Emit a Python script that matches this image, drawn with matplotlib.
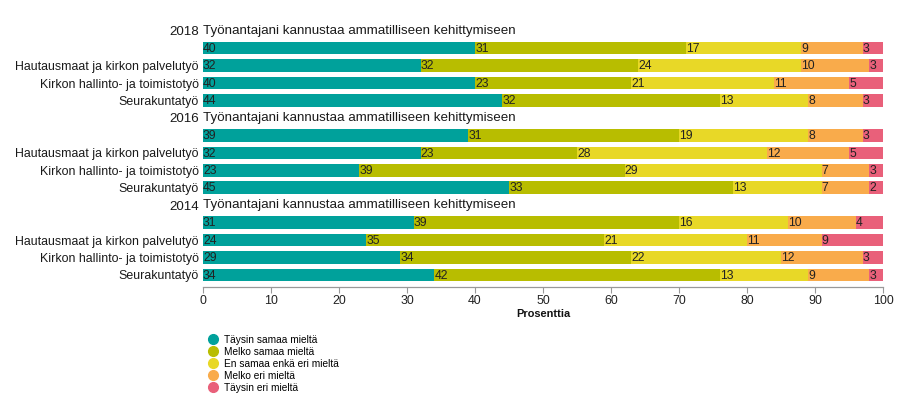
import matplotlib
matplotlib.use("Agg")
import matplotlib.pyplot as plt
from matplotlib.lines import Line2D
import numpy as np

plt.rcParams['font.family'] = ['Liberation Sans', 'DejaVu Sans']

series_names = ["Täysin samaa mieltä", "Melko samaa mieltä", "En samaa enkä eri mieltä",
                "Melko eri mieltä", "Täysin eri mieltä"]
colors = ["#00A19B", "#B8BD00", "#E8D827", "#F9AB4B", "#E9607A"]

years = ["2018", "2016", "2014"]
header_text = "Työnantajani kannustaa ammatilliseen kehittymiseen"
subgroups = ["", "Hautausmaat ja kirkon palvelutyö", "Kirkon hallinto- ja toimistotyö", "Seurakuntatyö"]

values_2018 = [[40, 31, 17, 9, 3],
               [32, 32, 24, 10, 3],
               [40, 23, 21, 11, 5],
               [44, 32, 13, 8, 3]]
values_2016 = [[39, 31, 19, 8, 3],
               [32, 23, 28, 12, 5],
               [23, 39, 29, 7, 3],
               [45, 33, 13, 7, 2]]
values_2014 = [[31, 39, 16, 10, 4],
               [24, 35, 21, 11, 9],
               [29, 34, 22, 12, 3],
               [34, 42, 13, 9, 3]]
all_values = [values_2018, values_2016, values_2014]

fig = plt.figure(figsize=(9.15, 3.98), dpi=100)
ax = fig.add_axes([0.2219, 0.279, 0.7432, 0.67])

fs = 8.7
fs_tick = 8.9
fs_head = 9.6
row = 0
ytick_pos, ytick_lab = [], []
for year, vals in zip(years, all_values):
    ytick_pos.append(row)
    ytick_lab.append(year)
    ax.text(0, row, header_text, ha='left', va='center', fontsize=fs_head, color='#1a1a1a')
    row += 1
    for sub, v in zip(subgroups, vals):
        left = 0
        for i, val in enumerate(v):
            ax.barh(row, val, left=left, height=0.72, color=colors[i], linewidth=0)
            ax.text(left, row + 0.04, str(val), ha='left', va='center', fontsize=fs, color='#222222')
            left += val
        ytick_pos.append(row)
        ytick_lab.append(sub)
        row += 1

ax.set_xlim(0, 100)
ax.set_ylim(row - 1 + 0.69, -0.6)
ax.set_yticks(ytick_pos)
ax.set_yticklabels(ytick_lab, fontsize=fs_tick, color='#1a1a1a')
for lab in ax.get_yticklabels():
    if lab.get_text() in years:
        lab.set_fontsize(fs_head)
ax.tick_params(axis='y', length=0, pad=3)
ax.set_xticks(np.arange(0, 101, 10))
ax.tick_params(axis='x', labelsize=fs_tick, colors='#222222', length=4, width=0.8, pad=2)
ax.tick_params(axis='x', color='#999999')
for s in ['top', 'right', 'left']:
    ax.spines[s].set_visible(False)
ax.spines['bottom'].set_color('#999999')
ax.spines['bottom'].set_linewidth(0.9)
ax.set_xlabel("Prosenttia", fontsize=7.9, fontweight='bold', labelpad=1, color='#111111')

handles = [Line2D([0], [0], marker='o', linestyle='', markersize=7, markerfacecolor=c,
                  markeredgecolor=c) for c in colors]
fig.legend(handles, series_names, loc='upper left', bbox_to_anchor=(0.2285, 0.159),
           frameon=False, fontsize=7.3, handlelength=0.8, handletextpad=0.7,
           labelspacing=0.2, borderaxespad=0, borderpad=0)

fig.savefig("out.png", dpi=100)
